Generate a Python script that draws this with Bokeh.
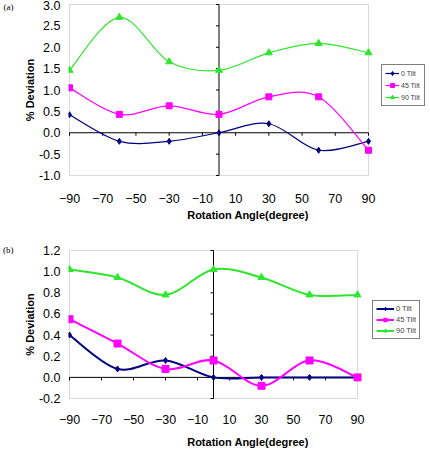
import math
from bokeh.plotting import figure
from bokeh.models import (ColumnDataSource, LinearAxis, FixedTicker, NumeralTickFormatter,
                          Range1d, Legend, LegendItem, BoxAnnotation, Title)
from bokeh.embed import file_html
from bokeh.resources import INLINE

# ---------------- data ----------------
angles = [-90, -60, -30, 0, 30, 60, 90]
x_ticks = [-90, -70, -50, -30, -10, 10, 30, 50, 70, 90]
series_names = ["0 Tilt", "45 Tilt", "90 Tilt"]

a_tilt0 = [0.42, -0.20, -0.20, 0.00, 0.21, -0.41, -0.20]
a_tilt45 = [1.05, 0.43, 0.63, 0.43, 0.84, 0.84, -0.41]
a_tilt90 = [1.46, 2.70, 1.66, 1.46, 1.87, 2.09, 1.87]
a_y_ticks = [-1.0, -0.5, 0.0, 0.5, 1.0, 1.5, 2.0, 2.5, 3.0]

b_tilt0 = [0.40, 0.08, 0.16, 0.00, 0.00, 0.00, 0.00]
b_tilt45 = [0.55, 0.32, 0.08, 0.16, -0.08, 0.16, 0.00]
b_tilt90 = [1.02, 0.945, 0.78, 1.02, 0.945, 0.78, 0.78]
b_y_ticks = [-0.2, 0.0, 0.2, 0.4, 0.6, 0.8, 1.0, 1.2]

COLORS = ["#000080", "#FF00FF", "#2EE62E"]
MARKERS = ["diamond", "square", "triangle"]
FONT = "Liberation Sans"


def bezier_source(xs, ys):
    """Control points for Excel-style smoothed line (cubic Bezier segments)."""
    n = len(xs)
    d = dict(x0=[], y0=[], x1=[], y1=[], cx0=[], cy0=[], cx1=[], cy1=[])
    for i in range(n - 1):
        a = i - 1 if i > 0 else i
        b = i + 2 if i + 2 < n else i + 1
        d["x0"].append(xs[i]); d["y0"].append(ys[i])
        d["x1"].append(xs[i + 1]); d["y1"].append(ys[i + 1])
        d["cx0"].append(xs[i] + (xs[i + 1] - xs[a]) / 6.0)
        d["cy0"].append(ys[i] + (ys[i + 1] - ys[a]) / 6.0)
        d["cx1"].append(xs[i + 1] - (xs[b] - xs[i]) / 6.0)
        d["cy1"].append(ys[i + 1] - (ys[b] - ys[i]) / 6.0)
    return ColumnDataSource(d)


def make_panel(tag, series, y_ticks, box_px, frame_px, height, lw, msizes,
               leg_loc, leg_font, leg_glyph, leg_lh, x_std, title_std):
    # box_px: (left, right, top, bottom) pixel edges of the plot box in the figure
    # frame_px: (left, right, top, bottom) pixel edges of the bokeh frame
    bl, br_, bt, bb = box_px
    fl, fr, ft, fb = frame_px
    width = 430
    xmin, xmax = x_ticks[0], x_ticks[-1]
    ymin, ymax = y_ticks[0], y_ticks[-1]
    sx = (br_ - bl) / (xmax - xmin)
    sy = (bb - bt) / (ymax - ymin)
    x_range = Range1d(xmin - (bl - fl) / sx, xmax + (fr - br_) / sx)
    y_range = Range1d(ymin - (fb - bb) / sy, ymax + (bt - ft) / sy)

    p = figure(width=width, height=height, output_backend="svg", toolbar_location=None,
               x_range=x_range, y_range=y_range,
               x_axis_location=None, y_axis_location=None,
               min_border_left=fl, min_border_right=width - fr,
               min_border_top=ft, min_border_bottom=height - fb)
    p.xgrid.visible = False
    p.ygrid.visible = False
    p.outline_line_color = None
    p.background_fill_color = "white"
    p.border_fill_color = "white"

    # grey plot box
    p.add_layout(BoxAnnotation(left=xmin, right=xmax, bottom=ymin, top=ymax,
                               fill_color=None, line_color="#808080", line_width=1,
                               level="underlay"))
    # axes crossing at zero: lines + outward tick marks
    p.line(x=[xmin, xmax], y=[0, 0], line_color="black", line_width=1)
    p.line(x=[0, 0], y=[ymin, ymax], line_color="black", line_width=1)
    p.ray(x=x_ticks, y=[0] * len(x_ticks), length=3, length_units="screen",
          angle=-math.pi / 2, line_color="black", line_width=1)
    p.ray(x=[0] * len(y_ticks), y=y_ticks, length=3, length_units="screen",
          angle=math.pi, line_color="black", line_width=1)

    no_ticks = dict(axis_line_color=None, major_tick_line_color=None,
                    minor_tick_line_color=None, major_tick_out=0, major_tick_in=0,
                    minor_tick_out=0, minor_tick_in=0)
    # outer label axes
    outer_x = LinearAxis(ticker=FixedTicker(ticks=x_ticks), **no_ticks,
                         major_label_text_font=FONT, major_label_text_font_size="12.5px",
                         major_label_text_color="black", major_label_standoff=x_std)
    outer_y = LinearAxis(ticker=FixedTicker(ticks=y_ticks), **no_ticks,
                         formatter=NumeralTickFormatter(format="0.0"),
                         major_label_text_font=FONT, major_label_text_font_size="12.5px",
                         major_label_text_color="black", major_label_standoff=bl - fl + 7,
                         axis_label="% Deviation", axis_label_text_font=FONT,
                         axis_label_text_font_size="11px", axis_label_text_font_style="bold",
                         axis_label_text_color="black", axis_label_standoff=0)
    tag_axis = LinearAxis(ticker=FixedTicker(ticks=[ymax]), **no_ticks,
                          major_label_overrides={ymax: tag},
                          major_label_text_font="Liberation Serif",
                          major_label_text_font_size="9px",
                          major_label_text_color="black", major_label_standoff=7)
    p.add_layout(outer_x, "below")
    p.add_layout(outer_y, "left")
    p.add_layout(tag_axis, "left")

    # x axis title centred on the plot box
    frame_center = (fl + fr) / 2.0
    box_center = (bl + br_) / 2.0
    p.add_layout(Title(text="Rotation Angle(degree)", align="center",
                       offset=box_center - frame_center, text_font=FONT,
                       text_font_size="11px", text_font_style="bold",
                       text_color="black", standoff=title_std), "below")

    items = []
    for name, ys, col, mk, ms in zip(series_names, series, COLORS, MARKERS, msizes):
        bz = p.bezier(x0="x0", y0="y0", x1="x1", y1="y1", cx0="cx0", cy0="cy0",
                      cx1="cx1", cy1="cy1", source=bezier_source(angles, ys),
                      line_color=col, line_width=lw)
        sr = p.scatter(angles, ys, marker=mk, size=ms, fill_color=col, line_color=col)
        items.append(LegendItem(label=name, renderers=[bz, sr]))

    legend = Legend(items=items, location=leg_loc, margin=0,
                    border_line_color="black", border_line_width=1,
                    background_fill_color="white", background_fill_alpha=1,
                    label_text_font=FONT, label_text_font_size=leg_font,
                    label_height=leg_lh, glyph_height=leg_lh, glyph_width=leg_glyph,
                    label_standoff=2, spacing=2, padding=3)
    p.add_layout(legend)
    return p


p1 = make_panel("(a)", [a_tilt0, a_tilt45, a_tilt90], a_y_ticks,
                (69, 368, 4, 175), (68, 427, 3, 176), 227, 1.2, [6, 6, 7],
                (313, 70), "7px", 14, 10, 17, 2)
p2 = make_panel("(b)", [b_tilt0, b_tilt45, b_tilt90], b_y_ticks,
                (69, 357, 23, 176), (68, 427, 22, 177), 227, 2, [6, 7, 7],
                (304, 60), "7.5px", 18, 9, 15, 14)

open("out.html", "w").write(file_html([p1, p2], INLINE))
